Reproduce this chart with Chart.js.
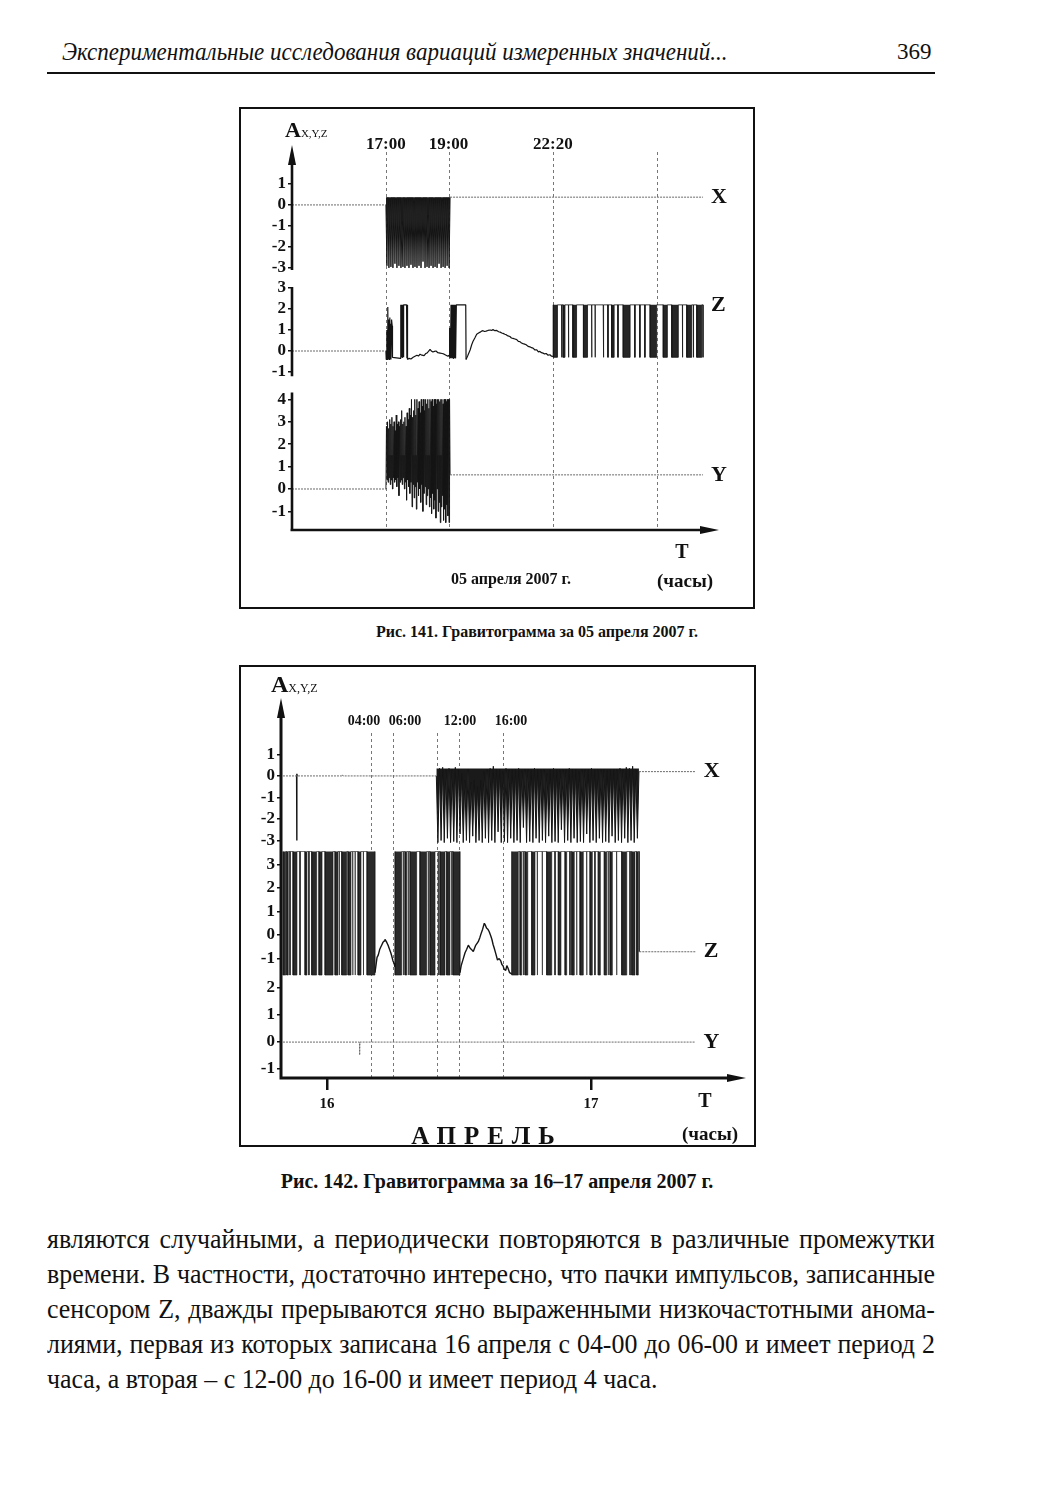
<!DOCTYPE html>
<html>
<head>
<meta charset="utf-8">
<script src="https://cdn.jsdelivr.net/npm/chart.js@4.4.0/dist/chart.umd.min.js"></script>
<style>
body { margin: 0; width: 1043px; height: 1500px; position: relative; background: #fff; color: #111; font-family: 'Liberation Serif', serif; }
.t { position: absolute; white-space: nowrap; line-height: 1; }
.c { transform: translate(-50%, -50%); }
.b { font-weight: bold; }
.box { position: absolute; border: 2px solid #111; box-sizing: border-box; }
.wrap { position: absolute; }
.line { position: absolute; left: 47px; width: 925px; font-size: 27px; line-height: 1; white-space: nowrap;
  text-align: justify; text-align-last: justify; transform: scaleX(0.96); transform-origin: 0 0; }
</style>
</head>
<body>

<div class="t" style="left:62px;top:39px;font-style:italic;font-size:26px;transform:scaleX(0.885);transform-origin:0 0;">Экспериментальные исследования вариаций измеренных значений...</div>
<div class="t" style="left:897px;top:40px;font-size:23px;">369</div>
<div style="position:absolute;left:47px;top:72px;width:888px;height:2px;background:#111;"></div>

<!-- fig 141 -->
<div class="box" style="left:239px;top:107px;width:516px;height:502px;"></div>
<div class="wrap" style="left:241px;top:109px;width:512px;height:498px;"><canvas id="fig1"></canvas></div>
<div class="t b" style="left:285px;top:119px;font-size:22px;">A<span style="font-size:11px;font-weight:normal;">X,Y,Z</span></div>
<div class="t b c" style="left:682px;top:551px;font-size:20px;">T</div>
<div class="t b c" style="left:685px;top:580px;font-size:19px;">(часы)</div>
<div class="t b c" style="left:511px;top:579px;font-size:16px;">05 апреля 2007 г.</div>
<div class="t b c" style="left:537px;top:632px;font-size:16px;">Рис. 141. Гравитограмма за 05 апреля 2007 г.</div>

<!-- fig 142 -->
<div class="box" style="left:239px;top:665px;width:517px;height:482px;"></div>
<div class="wrap" style="left:241px;top:667px;width:513px;height:478px;"><canvas id="fig2"></canvas></div>
<div class="t b" style="left:271px;top:672px;font-size:24px;">A<span style="font-size:12px;font-weight:normal;">X,Y,Z</span></div>
<div class="t b c" style="left:705px;top:1100px;font-size:20px;">T</div>
<div class="t b c" style="left:710px;top:1133px;font-size:19px;">(часы)</div>
<div class="t b c" style="left:487px;top:1135px;font-size:25px;letter-spacing:8px;">АПРЕЛЬ</div>
<div class="t b c" style="left:497px;top:1181px;font-size:20px;">Рис. 142. Гравитограмма за 16–17 апреля 2007 г.</div>

<div class="line" style="top:1226px;">являются случайными, а периодически повторяются в различные промежутки</div>
<div class="line" style="top:1261px;">времени. В частности, достаточно интересно, что пачки импульсов, записанные</div>
<div class="line" style="top:1296px;">сенсором Z, дважды прерываются ясно выраженными низкочастотными анома-</div>
<div class="line" style="top:1331px;">лиями, первая из которых записана 16 апреля с 04-00 до 06-00 и имеет период 2</div>
<div class="line" style="top:1366px;text-align-last:left;">часа, а вторая – с 12-00 до 16-00 и имеет период 4 часа.</div>

<script>
// ---------- Рис. 141 (05.04.2007), x in hours ----------
var fig1Times = [17, 19, 22.333, 25.667];
var fig1TimeLabels = ['17:00', '19:00', '22:20', ''];
var fig1XTicks = [1, 0, -1, -2, -3];
var fig1ZTicks = [3, 2, 1, 0, -1];
var fig1YTicks = [4, 3, 2, 1, 0, -1];

var fig1XBefore = [[14, 0], [17, 0]];
var fig1XAfter = [[19.05, 0.37], [27.13, 0.37]];
var fig1NoiseSpan = [17.0, 19.05];
var fig1XNoise = [0, -2.9, 0.35, -3.0, 0.3, -2.95, 0.35, -3.0, 0.35, -2.8,
  0.3, -3.0, 0.35, -2.9, 0.35, -3.0, -0.8, -2.95, 0.35, -3.0,
  0.3, -2.9, 0.35, -3.0, 0.35, -2.85, 0.35, -3.0, 0.2, -2.95,
  0.35, -3.0, 0.35, -2.9, 0.35, -3.0, 0.3, -2.7, 0.35, -3.0,
  0.35, -2.95, -0.5, -3.0, 0.35, -2.9, 0.35, -3.0, 0.3, -2.95,
  0.35, -3.0, 0.35, -2.8, 0.35, -3.0, 0.25, -2.95, 0.35, -3.0,
  0.35, -2.9, 0.35, -3.0, 0.37];

var fig1YBefore = [[14, 0], [17, 0]];
var fig1YAfter = [[19.05, 0.63], [27.13, 0.63]];
var fig1YNoise = [0, 2.8, 0.4, 3.0, 0.3, 2.7, 0.5, 3.1, 0.2, 2.9, 0.4, 3.2, 0.0, 2.8, 0.5, 3.0,
  0.3, 2.6, 0.4, 3.3, 0.1, 2.9, 0.5, 3.0, -0.3, 2.8, 0.3, 3.1, 0.4, 3.5, 0.2, 2.9,
  0.5, 3.0, 0.0, 3.2, 0.3, 2.8, -0.5, 3.4, 0.4, 3.1, 0.1, 3.6, -0.2, 3.3, 0.3, 4.0,
  -0.8, 3.2, 0.2, 3.5, -0.4, 4.0, 0.1, 3.3, -0.9, 4.0, 0.3, 3.6, -0.3, 3.9, 0.0, 3.4,
  -0.6, 4.0, 0.2, 3.7, -1.0, 4.0, -0.2, 3.5, 0.1, 4.0, -0.7, 3.8, -0.3, 4.0, 0.0, 3.6,
  -0.8, 4.0, -0.4, 3.9, -1.1, 4.0, -0.2, 3.7, -0.9, 4.0, -0.5, 4.0, -1.3, 3.8, 0.0, 4.0,
  -1.0, 4.0, -0.6, 3.9, -1.5, 4.0, -0.8, 4.0, -0.3, 3.8, -1.4, 4.0, -0.9, 4.0, -1.5, 3.9,
  -0.7, 4.0, -1.2, 4.0, -1.5, 4.0, 0.63];

var fig1ZBefore = [[14, 0], [17, 0]];
var fig1ZBurst = [[17.00, 0], [17.01, -0.4], [17.03, 1.0], [17.04, -0.4], [17.06, 2.1], [17.07, -0.35],
  [17.09, 1.5], [17.10, -0.4], [17.12, 1.6], [17.13, -0.3], [17.15, 1.3], [17.16, -0.4], [17.18, 1.5],
  [17.20, 1.2], [17.21, -0.3], [17.46, -0.35], [17.47, 2.2], [17.48, -0.3], [17.49, 2.2], [17.50, -0.3],
  [17.51, 2.2], [17.52, -0.3], [17.53, 2.2], [17.54, -0.3], [17.55, 2.2], [17.56, -0.3], [17.57, 2.2],
  [17.66, 2.2], [17.67, -0.35], [17.68, 2.2], [17.69, -0.4]];
var fig1ZDrift = [[17.69, -0.4], [17.74, -0.35], [17.80, -0.38], [17.87, -0.3], [17.93, -0.25], [17.99, -0.2],
  [18.04, -0.24], [18.09, -0.15], [18.15, -0.2], [18.22, -0.22], [18.27, -0.12], [18.31, -0.1], [18.36, -0.02],
  [18.41, 0.08], [18.45, 0.0], [18.50, -0.05], [18.55, -0.02], [18.60, 0.0], [18.66, -0.08], [18.73, -0.1],
  [18.80, -0.12], [18.86, -0.15], [18.92, -0.2], [18.98, -0.25], [19.02, -0.2]];
var fig1ZPulse = [[19.02, -0.2], [19.03, 1.1], [19.04, -0.3], [19.05, 0.9], [19.06, -0.35], [19.08, 2.2],
  [19.09, -0.35], [19.10, 2.2], [19.11, -0.35], [19.12, 2.2], [19.13, -0.35], [19.14, 2.2], [19.15, -0.35],
  [19.16, 2.2], [19.17, -0.35], [19.18, 2.2], [19.19, -0.35], [19.20, 2.2], [19.21, -0.3], [19.22, 2.2],
  [19.23, -0.35], [19.25, 2.2], [19.55, 2.2], [19.56, -0.4]];
var fig1ZCurve = [[19.56, -0.4], [19.62, -0.2], [19.69, 0.05], [19.74, 0.3], [19.78, 0.45], [19.84, 0.62],
  [19.90, 0.8], [19.96, 0.86], [20.01, 0.9], [20.06, 0.95], [20.10, 0.97], [20.15, 0.93], [20.20, 0.95],
  [20.26, 0.98], [20.33, 1.0], [20.38, 0.98], [20.42, 1.02], [20.48, 0.97], [20.54, 0.98], [20.60, 0.92],
  [20.65, 0.9], [20.70, 0.86], [20.74, 0.84], [20.80, 0.8], [20.84, 0.78], [20.90, 0.72], [20.96, 0.69],
  [21.01, 0.62], [21.06, 0.6], [21.12, 0.57], [21.18, 0.54], [21.23, 0.46], [21.28, 0.45], [21.33, 0.38],
  [21.38, 0.35], [21.43, 0.33], [21.48, 0.3], [21.54, 0.22], [21.60, 0.2], [21.65, 0.16], [21.70, 0.14],
  [21.76, 0.05], [21.82, 0.05], [21.87, -0.04], [21.92, -0.02], [21.97, -0.08], [22.02, -0.1], [22.07, -0.14],
  [22.12, -0.12], [22.18, -0.2], [22.24, -0.18], [22.29, -0.25], [22.34, -0.26]];
var fig1ZSpan = [22.34, 27.13];
var fig1ZLevels = [2.2, -0.3];
var fig1ZDips = [[22.35, 22.48], [22.61, 22.62], [22.66, 22.72], [22.83, 22.84], [22.97, 23.09],
  [23.31, 23.44], [23.57, 23.58], [23.68, 23.69], [23.94, 23.96], [24.09, 24.10], [24.21, 24.29],
  [24.41, 24.42], [24.58, 24.80], [24.95, 24.96], [25.11, 25.12], [25.27, 25.28], [25.44, 25.65],
  [25.86, 25.99], [26.13, 26.34], [26.47, 26.48], [26.61, 26.77], [26.82, 26.83], [26.93, 27.09]];

// ---------- Рис. 142 (16–17.04.2007), x in hours from 16.04 00:00 ----------
var fig2Times = [4, 6, 10, 12, 16];
var fig2TimeLabels = ['04:00', '06:00', '', '12:00', '16:00'];
var fig2Days = [0, 24];
var fig2DayLabels = ['16', '17'];
var fig2XTicks = [1, 0, -1, -2, -3];
var fig2ZTicks = [3, 2, 1, 0, -1];
var fig2YTicks = [2, 1, 0, -1];

var fig2XBefore = [[-4.0, 0], [1.35, 0], [1.4, 0.05], [1.45, 0], [9.94, 0]];
var fig2XSpike = [[-2.76, 0], [-2.75, -3.0], [-2.73, 0.1], [-2.7, 0]];
var fig2XAfter = [[28.36, 0.2], [33.52, 0.2]];
var fig2NoiseSpan = [9.94, 28.36];
var fig2XNoise = [0, -3.1, 0.35, -3.0, 0.4, -3.1, 0.3, -2.9, 0.35, -3.1, 0.3, -3.05, 0.4, -3.1, 0.3, -2.7,
  0.1, -3.1, -0.2, -3.0, 0.3, -3.1, -0.3, -2.8, -0.2, -3.1, -0.5, -3.0, -0.2, -3.1, 0.2, -2.9,
  0.3, -3.1, 0.35, -3.0, 0.45, -3.1, 0.3, -2.6, 0.3, -3.1, 0.2, -3.05, 0.35, -3.1, 0.3, -2.9,
  0.3, -3.1, 0.3, -3.0, 0.35, -3.1, 0.25, -2.4, 0.3, -3.1, 0.3, -3.05, 0.3, -3.1, 0.35, -2.9,
  0.3, -3.1, 0.3, -3.0, 0.3, -3.1, 0.1, -2.8, 0.3, -3.1, 0.35, -3.05, 0.3, -3.1, 0.3, -2.5,
  0.3, -3.1, 0.3, -3.0, 0.35, -3.1, 0.3, -2.9, 0.3, -3.1, 0.2, -3.05, 0.3, -3.1, 0.3, -2.7,
  0.3, -3.1, 0.35, -3.0, 0.3, -3.1, 0.3, -2.9, 0.3, -3.1, 0.3, -3.05, 0.25, -3.1, 0.3, -2.8,
  0.3, -3.1, 0.3, -3.0, 0.35, -3.1, 0.3, -2.9, 0.4, -3.1, 0.35, -3.0, 0.45, -3.1, 0.3, -2.9, 0.2];

var fig2ZLevels = [3.55, -1.7];
var fig2ZSpanA = [-4.0, 4.36];
var fig2ZDipsA = [[-4.0, -3.75], [-3.66, -3.52], [-3.37, -3.34], [-3.09, -2.73], [-2.46, -2.43], [-2.0, -1.82],
  [-1.65, -1.62], [-1.39, -0.94], [-0.73, -0.45], [-0.18, 0.55], [0.73, 1.0], [1.11, 1.14], [1.34, 1.79],
  [1.91, 2.18], [2.33, 2.36], [2.55, 2.58], [2.82, 3.09], [3.3, 3.33], [3.64, 4.36]];
var fig2ZBump1 = [[4.36, -1.6], [4.45, -1.3], [4.55, -0.95], [4.66, -0.85], [4.8, -0.6], [4.9, -0.5],
  [4.97, -0.43], [5.1, -0.3], [5.2, -0.25], [5.27, -0.18], [5.4, -0.28], [5.5, -0.38], [5.57, -0.45],
  [5.7, -0.62], [5.8, -0.75], [5.88, -0.88], [6.0, -1.1], [6.1, -1.2], [6.18, -1.35]];
var fig2ZSpanB = [6.18, 12.09];
var fig2ZDipsB = [[6.18, 6.79], [6.93, 6.96], [7.09, 7.25], [7.38, 7.41], [7.55, 8.15], [8.45, 9.06],
  [9.2, 9.23], [9.36, 9.82], [10.11, 10.14], [10.27, 10.73], [10.88, 11.18], [11.33, 11.36], [11.45, 12.09]];
var fig2ZBump2 = [[12.09, -1.6], [12.2, -1.3], [12.39, -1.0], [12.55, -0.75], [12.7, -0.6], [12.85, -0.43],
  [13.0, -0.55], [13.15, -0.62], [13.3, -0.7], [13.5, -0.45], [13.75, -0.28], [13.9, -0.1], [14.0, 0.05],
  [14.15, 0.25], [14.3, 0.5], [14.4, 0.42], [14.5, 0.3], [14.62, 0.25], [14.75, 0.14], [14.9, -0.05],
  [15.0, -0.2], [15.1, -0.4], [15.2, -0.55], [15.35, -0.8], [15.5, -1.06], [15.65, -1.0], [15.8, -1.1],
  [15.9, -1.25], [16.0, -1.3], [16.1, -1.45], [16.25, -1.5], [16.35, -1.3], [16.45, -1.4], [16.6, -1.6],
  [16.79, -1.65]];
var fig2ZSpanC = [16.79, 28.39];
var fig2ZDipsC = [[16.79, 17.39], [17.55, 17.7], [17.84, 17.87], [18.0, 18.25], [18.61, 18.91], [19.11, 19.14],
  [19.56, 19.59], [19.97, 20.43], [20.72, 20.75], [21.03, 21.27], [21.64, 21.79], [22.08, 22.11], [22.25, 22.48],
  [22.69, 22.72], [23.0, 23.3], [23.6, 23.63], [23.91, 24.12], [24.35, 24.38], [24.66, 24.85], [25.21, 25.43],
  [25.56, 25.59], [25.73, 25.94], [26.32, 26.35], [26.79, 27.25], [27.54, 27.57], [27.7, 28.0], [28.15, 28.3]];
var fig2ZAfter = [[28.39, -0.71], [33.52, -0.71]];

var fig2YBase = [[-4.0, 0], [2.95, 0], [2.97, -0.48], [3.0, 0], [33.5, 0]];

// ---------- helpers ----------
function spread(span, values) {
  var step = (span[1] - span[0]) / (values.length - 1);
  return values.map(function (v, i) { return [span[0] + i * step, v]; });
}
function squareWave(span, dips, levels, endLevel) {
  var hi = levels[0], lo = levels[1];
  var pts = [[span[0], lo], [span[0], hi]];
  dips.forEach(function (d) { pts.push([d[0], hi], [d[0], lo], [d[1], lo], [d[1], hi]); });
  pts.push([span[1], hi], [span[1], endLevel]);
  return pts;
}
function base(data, axis) {
  return { data: data, yAxisID: axis, borderColor: '#6a6a6a', borderWidth: 1, borderDash: [2, 1] };
}
function trace(data, axis, width) {
  return { data: data, yAxisID: axis, borderColor: '#141414', borderWidth: width || 1.2 };
}
function block(data, axis, level, width, shade) {
  return { data: data, yAxisID: axis, borderColor: '#141414', borderWidth: width || 1,
    fill: { target: { value: level }, above: shade || '#1a1a1a', below: shade || '#1a1a1a' } };
}
function panel(range, ticks, weight, order, width, size) {
  return {
    type: 'linear', position: 'left', stack: 'panels', stackWeight: weight, weight: order,
    min: range[0], max: range[1],
    afterBuildTicks: function (s) { s.ticks = ticks.map(function (v) { return { value: v }; }); },
    afterFit: function (s) { s.width = width; },
    border: { display: false },
    grid: { drawOnChartArea: false, tickLength: 4, color: '#111', lineWidth: 1.5 },
    ticks: { color: '#111', padding: 2, autoSkip: false,
      font: { family: 'Liberation Serif', weight: 'bold', size: size },
      callback: function (v) { return String(v); } }
  };
}

var gravDecor = {
  id: 'gravDecor',
  beforeDatasetsDraw: function (chart, args, o) {
    var ctx = chart.ctx, a = chart.chartArea, x = chart.scales.x;
    ctx.save();
    ctx.strokeStyle = '#777';
    ctx.lineWidth = 1;
    ctx.setLineDash([3, 3]);
    o.times.forEach(function (t) {
      var px = Math.round(x.getPixelForValue(t)) + 0.5;
      ctx.beginPath(); ctx.moveTo(px, o.markTop); ctx.lineTo(px, a.bottom); ctx.stroke();
    });
    ctx.restore();
  },
  afterDatasetsDraw: function (chart, args, o) {
    var ctx = chart.ctx, a = chart.chartArea, s = chart.scales;
    function yPix(id, v, edge) { return v == null ? s[id][edge] : s[id].getPixelForValue(v); }
    ctx.save();
    ctx.fillStyle = ctx.strokeStyle = '#111';
    ctx.lineWidth = o.axisWidth;
    ctx.beginPath();
    ctx.moveTo(a.left, o.arrowTip + 10); ctx.lineTo(a.left, a.top);
    o.segments.forEach(function (g) {
      ctx.moveTo(a.left, yPix(g[0], g[1], 'top')); ctx.lineTo(a.left, yPix(g[0], g[2], 'bottom'));
    });
    ctx.moveTo(a.left - 1.5, a.bottom); ctx.lineTo(a.right - 10, a.bottom);
    ctx.stroke();
    // arrows
    ctx.beginPath();
    ctx.moveTo(a.left, o.arrowTip); ctx.lineTo(a.left - 4, o.arrowTip + 20); ctx.lineTo(a.left + 4, o.arrowTip + 20);
    ctx.closePath(); ctx.fill();
    ctx.beginPath();
    ctx.moveTo(a.right, a.bottom); ctx.lineTo(a.right - 19, a.bottom - 4); ctx.lineTo(a.right - 19, a.bottom + 4);
    ctx.closePath(); ctx.fill();
    // time marker labels
    ctx.textAlign = 'center'; ctx.textBaseline = 'middle';
    ctx.font = o.timeFont;
    o.times.forEach(function (t, i) {
      ctx.fillText(o.timeLabels[i], s.x.getPixelForValue(t) + o.labelShift[i], o.labelY);
    });
    // series letters
    ctx.textAlign = 'left';
    ctx.font = o.letterFont;
    o.letters.forEach(function (l) {
      ctx.fillText(l.text, s.x.getPixelForValue(l.at[0]) + 8, s[l.scale].getPixelForValue(l.at[1]));
    });
    ctx.restore();
  }
};

Chart.defaults.animation = false;
Chart.defaults.font.family = 'Liberation Serif';
Chart.defaults.elements.point.radius = 0;
Chart.defaults.elements.line.borderJoinStyle = 'bevel';
Chart.defaults.plugins.legend.display = false;
Chart.defaults.plugins.tooltip.enabled = false;

var lastOf = function (arr) { return arr[arr.length - 1]; };

new Chart(document.getElementById('fig1'), {
  type: 'line',
  data: {
    datasets: [
      base(fig1XBefore, 'yX'), base(fig1XAfter, 'yX'),
      base(fig1ZBefore, 'yZ'),
      base(fig1YBefore, 'yY'), base(fig1YAfter, 'yY'),
      block(spread(fig1NoiseSpan, fig1XNoise), 'yX', 0.37),
      block(spread(fig1NoiseSpan, fig1YNoise), 'yY', 1.5, 0.9),
      trace(fig1ZBurst, 'yZ'), trace(fig1ZDrift, 'yZ'), trace(fig1ZPulse, 'yZ'), trace(fig1ZCurve, 'yZ'),
      block(squareWave(fig1ZSpan, fig1ZDips, fig1ZLevels, fig1ZLevels[1]), 'yZ', fig1ZLevels[0], 0.8, '#262626')
    ]
  },
  options: {
    responsive: true, maintainAspectRatio: false,
    layout: { padding: { left: 0, right: 34, top: 51, bottom: 77 } },
    scales: {
      x: { type: 'linear', min: 14, max: 27.64, display: true,
        border: { display: false }, grid: { display: false }, ticks: { display: false },
        afterFit: function (s) { s.height = 0; } },
      yX: panel([-3.48, 2.14], fig1XTicks, 118, 3, 51, 17),
      yZ: panel([-1.62, 3.48], fig1ZTicks, 107, 2, 51, 17),
      yY: panel([-1.83, 4.64], fig1YTicks, 145, 1, 51, 17)
    },
    plugins: {
      gravDecor: {
        times: fig1Times, timeLabels: fig1TimeLabels, labelShift: [0, 0, 0, 0],
        labelY: 36, markTop: 43, arrowTip: 36, axisWidth: 2.6,
        timeFont: 'bold 17px "Liberation Serif"', letterFont: 'bold 22px "Liberation Serif"',
        segments: [['yX', null, -3.1], ['yZ', 3.05, -1.2], ['yY', 4.3, null]],
        letters: [
          { text: 'X', scale: 'yX', at: lastOf(fig1XAfter) },
          { text: 'Z', scale: 'yZ', at: [fig1ZSpan[1], fig1ZLevels[0]] },
          { text: 'Y', scale: 'yY', at: lastOf(fig1YAfter) }
        ]
      }
    }
  },
  plugins: [gravDecor]
});

new Chart(document.getElementById('fig2'), {
  type: 'line',
  data: {
    datasets: [
      base(fig2XBefore, 'yX'), base(fig2XAfter, 'yX'),
      base(fig2ZAfter, 'yZ'),
      base(fig2YBase, 'yY'),
      trace(fig2XSpike, 'yX', 1.4),
      block(spread(fig2NoiseSpan, fig2XNoise), 'yX', 0.35),
      block(squareWave(fig2ZSpanA, fig2ZDipsA, fig2ZLevels, fig2ZBump1[0][1]), 'yZ', fig2ZLevels[0], 0.6, '#2a2a2a'),
      trace(fig2ZBump1, 'yZ', 1.4),
      block(squareWave(fig2ZSpanB, fig2ZDipsB, fig2ZLevels, fig2ZBump2[0][1]), 'yZ', fig2ZLevels[0], 0.6, '#2a2a2a'),
      trace(fig2ZBump2, 'yZ', 1.4),
      block(squareWave(fig2ZSpanC, fig2ZDipsC, fig2ZLevels, fig2ZAfter[0][1]), 'yZ', fig2ZLevels[0], 0.6, '#2a2a2a')
    ]
  },
  options: {
    responsive: true, maintainAspectRatio: false,
    layout: { padding: { left: 0, right: 8, top: 73, bottom: 27 } },
    scales: {
      x: { type: 'linear', min: -4.18, max: 38.09,
        afterBuildTicks: function (s) { s.ticks = fig2Days.map(function (v) { return { value: v }; }); },
        afterFit: function (s) { s.height = 40; },
        border: { display: false },
        grid: { drawOnChartArea: false, tickLength: 12, color: '#111', lineWidth: 2.5 },
        ticks: { color: '#111', padding: 5, autoSkip: false, maxRotation: 0,
          font: { family: 'Liberation Serif', weight: 'bold', size: 15 },
          callback: function (v, i) { return fig2DayLabels[i]; } } },
      yX: panel([-3.35, 1.67], fig2XTicks, 108, 3, 40, 17),
      yZ: panel([-1.91, 3.70], fig2ZTicks, 132, 2, 40, 17),
      yY: panel([-1.33, 2.30], fig2YTicks, 98, 1, 40, 17)
    },
    plugins: {
      gravDecor: {
        times: fig2Times, timeLabels: fig2TimeLabels, labelShift: [-7, 12, 0, 1, 8],
        labelY: 54, markTop: 66, arrowTip: 31, axisWidth: 3,
        timeFont: 'bold 14px "Liberation Serif"', letterFont: 'bold 22px "Liberation Serif"',
        segments: [['yX', null, null], ['yZ', null, null], ['yY', null, null]],
        letters: [
          { text: 'X', scale: 'yX', at: lastOf(fig2XAfter) },
          { text: 'Z', scale: 'yZ', at: lastOf(fig2ZAfter) },
          { text: 'Y', scale: 'yY', at: lastOf(fig2YBase) }
        ]
      }
    }
  },
  plugins: [gravDecor]
});
</script>
</body>
</html>
